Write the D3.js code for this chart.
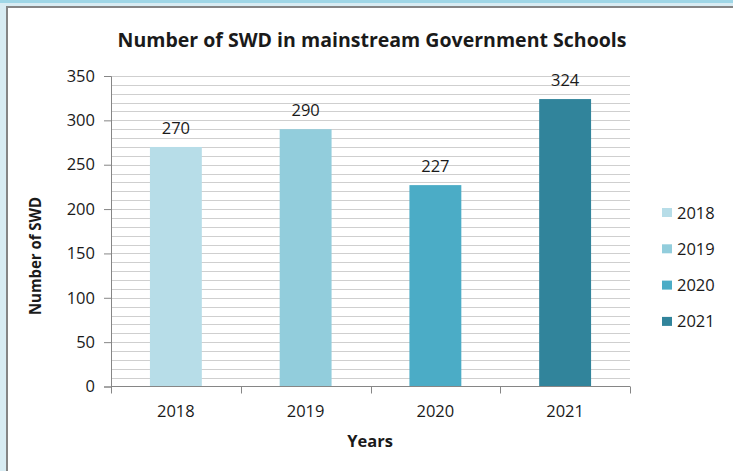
<!DOCTYPE html>
<meta charset="utf-8">
<head>
  <script src="https://d3js.org/d3.v7.min.js"></script>
  <style>
    body { margin: 0; background: #d8ecf3; }
    svg { display: block; }
    text { font-family: "Open Sans", "DejaVu Sans", sans-serif; fill: #1a1a1a; }
  </style>
</head>
<body>
  <div id="my_dataviz"></div>
  <script>

    // chart data
    var years = ["2018", "2019", "2020", "2021"];
    var counts = [270, 290, 227, 324];
    var colors = ["#b7dde8", "#92cddc", "#4bacc6", "#31849b"];
    var yTicks = [0, 50, 100, 150, 200, 250, 300, 350];

    var data = years.map(function (y, i) { return { year: y, value: counts[i], color: colors[i] }; });

    var W = 733, H = 471;
    var plot = { left: 111, right: 630, top: 76, bottom: 386.5 };

    var svg = d3.select("#my_dataviz")
      .append("svg")
      .attr("width", W)
      .attr("height", H);

    // window frame
    svg.append("rect").attr("x", 0).attr("y", 0).attr("width", W).attr("height", 3).attr("fill", "#9fd6e6");
    svg.append("rect").attr("x", 6).attr("y", 6).attr("width", W - 6).attr("height", H - 6)
      .attr("fill", "#ffffff");
    svg.append("rect").attr("x", 6).attr("y", 6).attr("width", W - 6).attr("height", 2).attr("fill", "#858585");
    svg.append("rect").attr("x", 6).attr("y", 6).attr("width", 2).attr("height", H - 6).attr("fill", "#858585");

    // scales
    var x = d3.scaleBand()
      .domain(years)
      .range([plot.left, plot.right])
      .paddingInner(0.6)
      .paddingOuter(0.3);

    var y = d3.scaleLinear()
      .domain([0, 350])
      .range([plot.bottom, plot.top]);

    // minor gridlines every 10
    svg.append("g")
      .selectAll("line")
      .data(d3.range(10, 351, 10))
      .enter()
      .append("line")
      .attr("x1", plot.left)
      .attr("x2", plot.right)
      .attr("y1", function (d) { return Math.round(y(d)) + 0.5; })
      .attr("y2", function (d) { return Math.round(y(d)) + 0.5; })
      .attr("stroke", "#cfcfcf")
      .attr("stroke-width", 1.2);

    // bars
    svg.append("g")
      .selectAll("rect")
      .data(data)
      .enter()
      .append("rect")
      .attr("x", function (d) { return x(d.year); })
      .attr("width", x.bandwidth())
      .attr("y", function (d) { return y(d.value); })
      .attr("height", function (d) { return y(0) - y(d.value); })
      .attr("fill", function (d) { return d.color; });

    // value labels
    svg.append("g")
      .selectAll("text")
      .data(data)
      .enter()
      .append("text")
      .attr("x", function (d) { return x(d.year) + x.bandwidth() / 2; })
      .attr("y", function (d) { return y(d.value) - 13; })
      .attr("text-anchor", "middle")
      .style("font-size", "16.5px")
      .text(function (d) { return d.value; });

    // Y axis
    var yAxis = svg.append("g")
      .attr("transform", "translate(" + plot.left + ",0)")
      .call(d3.axisLeft(y).tickValues(yTicks).tickSize(7).tickPadding(9));
    yAxis.selectAll("path, line").attr("stroke", "#868686");
    yAxis.selectAll("text").style("font-size", "16.5px").attr("fill", "#1a1a1a")
      .style("font-family", "'Open Sans', sans-serif");

    // X axis with ticks at category boundaries
    var xAxis = svg.append("g")
      .attr("transform", "translate(0," + plot.bottom + ")");
    xAxis.append("line")
      .attr("x1", plot.left).attr("x2", plot.right)
      .attr("stroke", "#868686");
    xAxis.selectAll("line.tick")
      .data(d3.range(0, years.length + 1))
      .enter()
      .append("line")
      .attr("class", "tick")
      .attr("x1", function (i) { return Math.round(plot.left + i * (plot.right - plot.left) / years.length) + 0.5; })
      .attr("x2", function (i) { return Math.round(plot.left + i * (plot.right - plot.left) / years.length) + 0.5; })
      .attr("y1", 0).attr("y2", 7)
      .attr("stroke", "#868686");
    xAxis.selectAll("text")
      .data(years)
      .enter()
      .append("text")
      .attr("x", function (d) { return x(d) + x.bandwidth() / 2; })
      .attr("y", 30)
      .attr("text-anchor", "middle")
      .style("font-size", "16.5px")
      .text(function (d) { return d; });

    // titles
    svg.append("text")
      .attr("x", 372).attr("y", 47)
      .attr("text-anchor", "middle")
      .attr("textLength", 509).attr("lengthAdjust", "spacingAndGlyphs")
      .style("font-size", "19px").style("font-weight", "bold")
      .text("Number of SWD in mainstream Government Schools");

    svg.append("text")
      .attr("x", 370).attr("y", 447)
      .attr("text-anchor", "middle")
      .style("font-size", "16.5px").style("font-weight", "bold")
      .text("Years");

    svg.append("text")
      .attr("transform", "translate(41,256)rotate(-90)")
      .attr("text-anchor", "middle")
      .attr("textLength", 118).attr("lengthAdjust", "spacingAndGlyphs")
      .style("font-size", "16px").style("font-weight", "bold")
      .text("Number of SWD");

    // legend
    var legend = svg.append("g")
      .selectAll("g")
      .data(data)
      .enter()
      .append("g")
      .attr("transform", function (d, i) { return "translate(662," + (208 + i * 36.3) + ")"; });
    legend.append("rect")
      .attr("width", 10).attr("height", 9)
      .attr("fill", function (d) { return d.color; });
    legend.append("text")
      .attr("x", 15).attr("y", 10.5)
      .style("font-size", "16.5px")
      .text(function (d) { return d.year; });

  </script>
</body>
